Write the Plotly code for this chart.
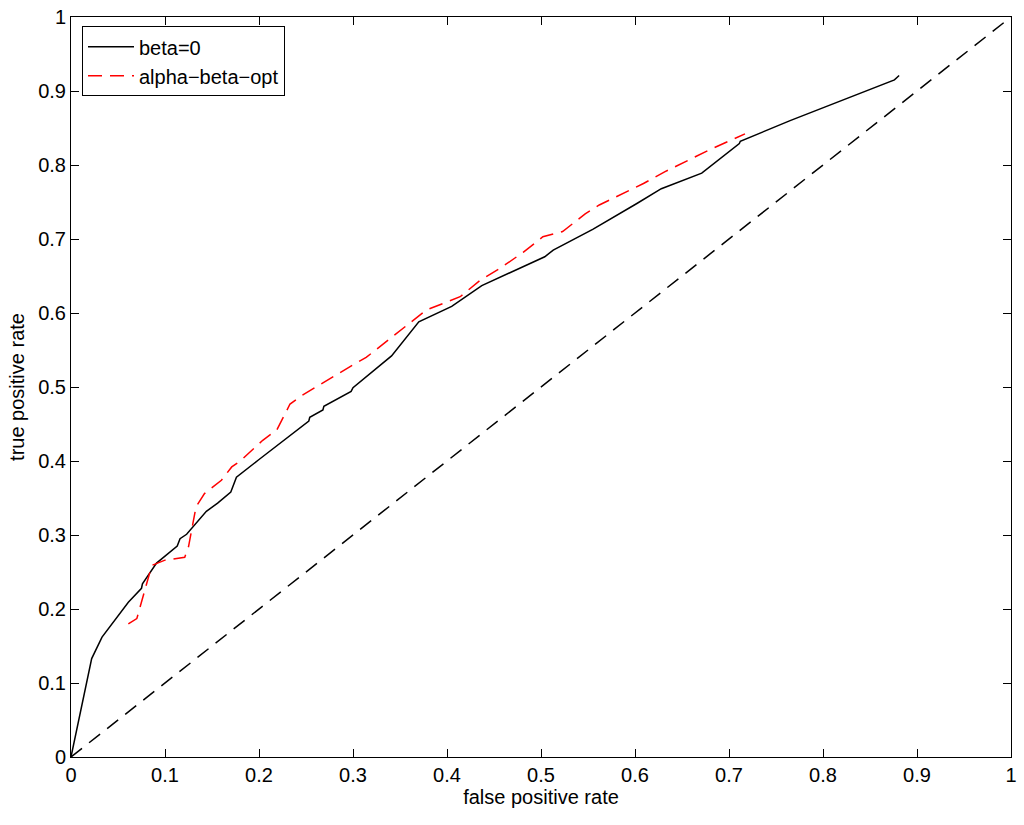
#!/usr/bin/env python3
"""ROC curves: beta=0 vs alpha-beta-opt, with chance diagonal."""

import plotly.graph_objects as go

# beta=0 curve (false positive rate, true positive rate)
beta0_fpr = [0.0, 0.022, 0.033, 0.047, 0.061, 0.075, 0.076, 0.091, 0.113, 0.116,
             0.123, 0.144, 0.156, 0.170, 0.176, 0.199, 0.253, 0.254, 0.268, 0.269,
             0.298, 0.300, 0.341, 0.370, 0.405, 0.437, 0.504, 0.513, 0.555, 0.602,
             0.628, 0.671, 0.711, 0.712, 0.763, 0.765, 0.876, 0.881]
beta0_tpr = [0.0, 0.133, 0.162, 0.185, 0.209, 0.228, 0.234, 0.262, 0.285, 0.295,
             0.301, 0.332, 0.343, 0.358, 0.378, 0.401, 0.454, 0.459, 0.469, 0.474,
             0.494, 0.499, 0.542, 0.588, 0.609, 0.637, 0.676, 0.685, 0.713, 0.748,
             0.768, 0.789, 0.829, 0.832, 0.858, 0.860, 0.915, 0.921]

# alpha-beta-opt curve
opt_fpr = [0.061, 0.070, 0.086, 0.100, 0.121, 0.125, 0.133, 0.142, 0.160, 0.171,
           0.181, 0.204, 0.219, 0.233, 0.245, 0.268, 0.300, 0.314, 0.346, 0.378,
           0.414, 0.435, 0.456, 0.481, 0.502, 0.523, 0.547, 0.562, 0.609, 0.632,
           0.680, 0.704, 0.717]
opt_tpr = [0.180, 0.187, 0.259, 0.266, 0.270, 0.284, 0.338, 0.356, 0.374, 0.392,
           0.401, 0.428, 0.442, 0.477, 0.488, 0.506, 0.530, 0.540, 0.572, 0.604,
           0.622, 0.644, 0.660, 0.682, 0.703, 0.710, 0.734, 0.746, 0.775, 0.791,
           0.821, 0.834, 0.842]

# chance line
diag = [0, 1]

tick_vals = [0, 0.1, 0.2, 0.3, 0.4, 0.5, 0.6, 0.7, 0.8, 0.9, 1]
tick_text = ["0", "0.1", "0.2", "0.3", "0.4", "0.5", "0.6", "0.7", "0.8", "0.9", "1"]

FONT = "Liberation Sans, Arial, sans-serif"

fig = go.Figure()

fig.add_trace(go.Scatter(
    x=beta0_fpr, y=beta0_tpr, mode="lines", name="beta=0",
    line=dict(color="black", width=1.5),
))
fig.add_trace(go.Scatter(
    x=opt_fpr, y=opt_tpr, mode="lines", name="alpha\u2212beta\u2212opt",
    line=dict(color="#ff0000", width=1.5, dash="14px,8px"),
))
fig.add_trace(go.Scatter(
    x=diag, y=diag, mode="lines", showlegend=False,
    line=dict(color="black", width=1.5, dash="14px,9px"),
))

axis_style = dict(
    range=[0, 1],
    tickvals=tick_vals,
    ticktext=tick_text,
    ticks="inside",
    ticklen=8,
    tickwidth=1,
    tickcolor="black",
    ticklabeloverflow="allow",
    automargin=False,
    showline=True,
    linecolor="black",
    linewidth=1,
    mirror="ticks",
    showgrid=False,
    zeroline=False,
    tickfont=dict(family=FONT, size=20, color="black"),
)

fig.update_xaxes(**axis_style,
                 title=dict(text="false positive rate", standoff=4,
                            font=dict(family=FONT, size=20, color="black")))
fig.update_yaxes(**axis_style,
                 title=dict(text="true positive rate", standoff=8,
                            font=dict(family=FONT, size=20, color="black")))

fig.update_layout(
    width=1024,
    height=825,
    margin=dict(l=71, r=13, t=17, b=68, autoexpand=False),
    paper_bgcolor="white",
    plot_bgcolor="white",
    font=dict(family=FONT, size=20, color="black"),
    legend=dict(
        x=0.0117, y=0.9874, xanchor="left", yanchor="top",
        bgcolor="white", bordercolor="black", borderwidth=1,
        font=dict(family=FONT, size=20, color="black"),
        tracegroupgap=0,
        itemwidth=46,
    ),
)

# drop the browser's default body margin so the figure sits at the page corner
fig.write_html("out.html",
               config={"displayModeBar": False},
               post_script="document.body.style.margin = '0';")
